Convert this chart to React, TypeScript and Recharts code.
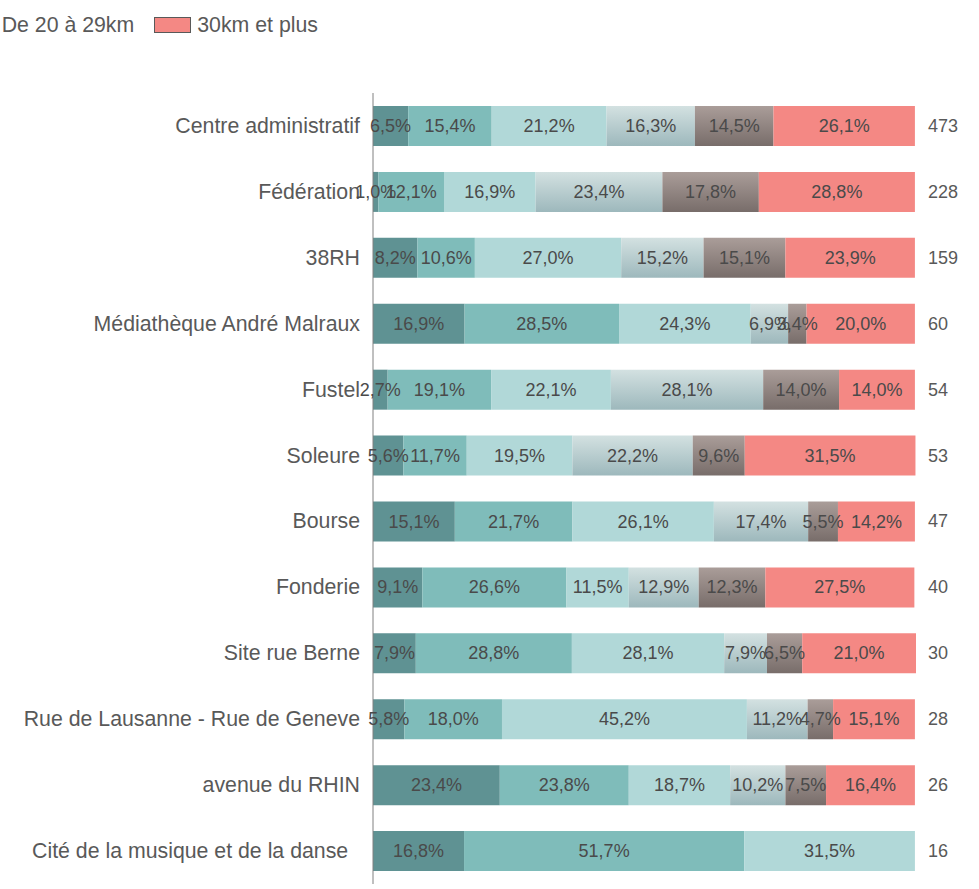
import React from 'react';
import { BarChart, Bar, XAxis, YAxis, Legend, LabelList } from 'recharts';

const categories = [
  'Centre administratif',
  'Fédération',
  '38RH',
  'Médiathèque André Malraux',
  'Fustel',
  'Soleure',
  'Bourse',
  'Fonderie',
  'Site rue Berne',
  'Rue de Lausanne - Rue de Geneve',
  'avenue du RHIN',
  'Cité de la musique et de la danse\u00A0\u00A0',
];

const seriesNames = ['Moins de 5km', 'De 5 à 9km', 'De 10 à 14km', 'De 15 à 19km', 'De 20 à 29km', '30km et plus'];

const s1 = [6.5, 1.0, 8.2, 16.9, 2.7, 5.6, 15.1, 9.1, 7.9, 5.8, 23.4, 16.8];
const s2 = [15.4, 12.1, 10.6, 28.5, 19.1, 11.7, 21.7, 26.6, 28.8, 18.0, 23.8, 51.7];
const s3 = [21.2, 16.9, 27.0, 24.3, 22.1, 19.5, 26.1, 11.5, 28.1, 45.2, 18.7, 31.5];
const s4 = [16.3, 23.4, 15.2, 6.9, 28.1, 22.2, 17.4, 12.9, 7.9, 11.2, 10.2, 0];
const s5 = [14.5, 17.8, 15.1, 3.4, 14.0, 9.6, 5.5, 12.3, 6.5, 4.7, 7.5, 0];
const s6 = [26.1, 28.8, 23.9, 20.0, 14.0, 31.5, 14.2, 27.5, 21.0, 15.1, 16.4, 0];
const counts = [473, 228, 159, 60, 54, 53, 47, 40, 30, 28, 26, 16];

const seriesValues = [s1, s2, s3, s4, s5, s6];
const fills = ['#5f9293', '#7fbcba', '#b1d8d8', 'url(#g4)', 'url(#g5)', '#f48884'];
const legendColors = ['#5f9293', '#7fbcba', '#b1d8d8', '#b8cdcf', '#908480', '#f48884'];

const data = categories.map((name, i) => {
  const row: any = { name, count: counts[i] };
  seriesValues.forEach((arr, k) => {
    row['s' + (k + 1)] = arr[i];
  });
  return row;
});

const FONT = '"Liberation Sans", Arial, sans-serif';

const fmt = (v: number) => v.toFixed(1).replace('.', ',') + '%';

const renderLabel = (props: any) => {
  const { x, y, width, height, value } = props;
  if (!value) return null;
  return (
    <text
      x={Number(x) + Number(width) / 2}
      y={Number(y) + Number(height) / 2}
      textAnchor="middle"
      dominantBaseline="central"
      fill="#4a4a4a"
      fontSize={18}
      fontFamily={FONT}
    >
      {fmt(value)}
    </text>
  );
};

const LeftTick = (props: any) => {
  const { x, y, payload } = props;
  return (
    <text
      x={x}
      y={y}
      textAnchor="end"
      dominantBaseline="central"
      fill="#595959"
      fontSize={21.3}
      fontFamily={FONT}
      style={{ whiteSpace: 'pre' }}
    >
      {payload.value}
    </text>
  );
};

const RightTick = (props: any) => {
  const { x, y, payload } = props;
  const idx = categories.indexOf(payload.value);
  return (
    <text
      x={x}
      y={y}
      textAnchor="start"
      dominantBaseline="central"
      fill="#595959"
      fontSize={18}
      fontFamily={FONT}
    >
      {idx >= 0 ? counts[idx] : ''}
    </text>
  );
};

const LegendContent = () => (
  <div
    style={{
      width: 318,
      display: 'flex',
      justifyContent: 'flex-end',
      flexWrap: 'nowrap',
      alignItems: 'center',
      fontFamily: FONT,
      fontSize: 21.3,
      color: '#595959',
      whiteSpace: 'nowrap',
    }}
  >
    {seriesNames.map((n, i) => (
      <div
        key={n}
        style={{
          display: 'flex',
          alignItems: 'center',
          flexShrink: 0,
          marginRight: i < seriesNames.length - 1 ? 20 : 0,
        }}
      >
        <span
          style={{
            display: 'inline-block',
            width: 35,
            height: 14,
            background: legendColors[i],
            border: '1px solid #595959',
            marginRight: 6,
            flexShrink: 0,
          }}
        />
        <span style={{ lineHeight: '20px' }}>{n}</span>
      </div>
    ))}
  </div>
);

export default function App() {
  return (
    <div style={{ position: 'absolute', left: 0, top: 0, width: 979, height: 889, overflow: 'hidden', background: '#fff' }}>
      <BarChart
        width={979}
        height={889}
        data={data}
        layout="vertical"
        margin={{ top: 73, right: 0, bottom: 5, left: 0 }}
        barSize={40}
      >
        <defs>
          <linearGradient id="g4" x1="0" y1="0" x2="0" y2="1">
            <stop offset="0%" stopColor="#d3e1e1" />
            <stop offset="100%" stopColor="#9db8bc" />
          </linearGradient>
          <linearGradient id="g5" x1="0" y1="0" x2="0" y2="1">
            <stop offset="0%" stopColor="#aa9d99" />
            <stop offset="100%" stopColor="#786d6a" />
          </linearGradient>
        </defs>
        <XAxis type="number" domain={[0, 100]} hide />
        <YAxis
          type="category"
          dataKey="name"
          width={373}
          axisLine={{ stroke: '#808080', strokeWidth: 1 }}
          tickLine={false}
          tickSize={0}
          tickMargin={13}
          tick={<LeftTick />}
          interval={0}
        />
        <YAxis
          yAxisId="right"
          orientation="right"
          type="category"
          dataKey="name"
          width={63}
          axisLine={false}
          tickLine={false}
          tickSize={0}
          tickMargin={12}
          tick={<RightTick />}
          interval={0}
        />
        <Legend
          verticalAlign="top"
          align="left"
          content={<LegendContent />}
          wrapperStyle={{ position: 'absolute', top: 15, left: 0, width: 318 }}
        />
        {seriesValues.map((_, k) => (
          <Bar
            key={k}
            dataKey={'s' + (k + 1)}
            name={seriesNames[k]}
            stackId="a"
            fill={fills[k]}
            isAnimationActive={false}
          >
            <LabelList dataKey={'s' + (k + 1)} content={renderLabel} />
          </Bar>
        ))}
      </BarChart>
    </div>
  );
}
